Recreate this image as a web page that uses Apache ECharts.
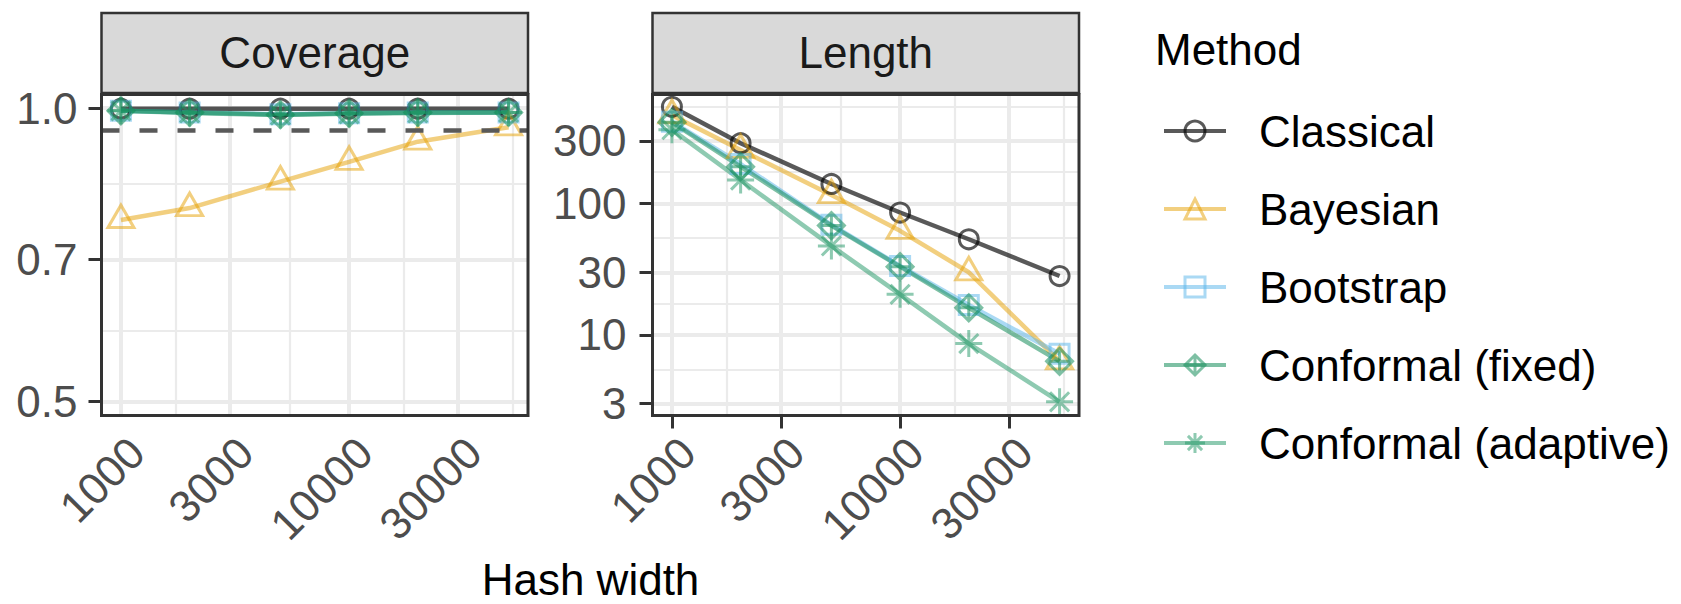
<!DOCTYPE html>
<html>
<head>
<meta charset="utf-8">
<script src="https://cdn.jsdelivr.net/npm/echarts@6/dist/echarts.min.js"></script>
<style>
  html, body { margin: 0; padding: 0; background: #fff; }
  #main { width: 1681px; height: 604px; }
</style>
</head>
<body>
<div id="main"></div>
<script>
  // x: hash width (log scale in both panels)
  const hashWidths = [1000, 2000, 5000, 10000, 20000, 50000]
  const methods = ['Classical', 'Bayesian', 'Bootstrap', 'Conformal (fixed)', 'Conformal (adaptive)']

  // Coverage panel
  const coverageClassical = [0.999, 0.999, 0.999, 0.999, 0.999, 0.999]
  const coverageBayesian = [0.768, 0.79, 0.841, 0.881, 0.924, 0.956]
  const coverageBootstrap = [0.994, 0.99, 0.986, 0.988, 0.99, 0.99]
  const coverageFixed = [0.994, 0.99, 0.985, 0.988, 0.99, 0.99]
  const coverageAdaptive = [0.994, 0.989, 0.984, 0.987, 0.989, 0.99]
  const nominalLevel = 0.95

  // Length panel
  const lengthClassical = [545, 288, 141, 85.5, 53.5, 28.1]
  const lengthBayesian = [470, 256, 116, 62, 30, 6.3]
  const lengthBootstrap = [420, 200, 69, 33.5, 16.9, 7.2]
  const lengthFixed = [415, 191, 68, 33.1, 16.1, 6.3]
  const lengthAdaptive = [365, 151, 47.6, 20.4, 8.6, 3.1]

  // breaks / tick labels
  const xBreaks = [1000, 3000, 10000, 30000]
  const xMinor = [1732, 5477, 17321, 51962]
  const coverageBreaks = [0.5, 0.7, 1.0]
  const coverageLabels = ['0.5', '0.7', '1.0']
  const coverageMinor = [0.5916, 0.8367]
  const lengthBreaks = [3, 10, 30, 100, 300]
  const lengthMinor = [5.477, 17.32, 54.77, 173.2, 547.7]

  const xLimits = [822, 60830]
  const coverageLimits = [0.484, 1.033]
  const lengthLimits = [2.44, 676]

  const ln = Math.log
  const FONT = 'Liberation Sans'
  const PANEL_TOP = 94.5
  const PANEL_H = 321
  const PANEL_W = 426.5
  const panelLeft = [101.5, 652.5]

  const styles = [
    { color: 'rgba(0,0,0,0.65)', symbol: 'circle', size: 19 },
    { color: 'rgba(230,159,0,0.5)', symbol: 'path://M0,-2L1.732,1L-1.732,1Z', size: [26, 22.5], offset: [0, -3.75] },
    { color: 'rgba(86,180,233,0.5)', symbol: 'rect', size: 19 },
    { color: 'rgba(20,140,90,0.55)', symbol: 'path://M0,-1L1,0L0,1L-1,0ZM0,-1L0,1M-1,0L1,0', size: 26 },
    { color: 'rgba(30,150,100,0.5)', symbol: 'path://M0,-1L0,1M-1,0L1,0M-0.7071,-0.7071L0.7071,0.7071M-0.7071,0.7071L0.7071,-0.7071', size: 27 },
  ]

  function gridLines(idx, xMaj, xMin, yMaj, yMin, yLim) {
    let out = []
    let add = (a, b, w) => out.push([{ coord: a, lineStyle: { width: w } }, { coord: b }])
    let x0 = ln(xLimits[0]), x1 = ln(xLimits[1])
    let y0 = ln(yLim[0]), y1 = ln(yLim[1])
    xMin.forEach((v) => add([ln(v), y0], [ln(v), y1], 2.2))
    yMin.forEach((v) => add([x0, ln(v)], [x1, ln(v)], 2.2))
    xMaj.forEach((v) => add([ln(v), y0], [ln(v), y1], 4))
    yMaj.forEach((v) => add([x0, ln(v)], [x1, ln(v)], 4))
    return {
      silent: true, z: 1, symbol: ['none', 'none'], label: { show: false },
      lineStyle: { color: '#EBEBEB', type: 'solid' }, animation: false,
      data: out,
    }
  }

  function makeSeries(name, values, idx, k) {
    let s = styles[k]
    return {
      name: name, type: 'line', xAxisIndex: idx, yAxisIndex: idx, z: 3,
      data: hashWidths.map((h, i) => [ln(h), ln(values[i])]),
      symbol: s.symbol, symbolSize: s.size, symbolOffset: s.offset || [0, 0],
      showAllSymbol: true, clip: false, animation: false,
      lineStyle: { color: s.color, width: 4.5 },
      itemStyle: { color: 'rgba(0,0,0,0)', borderColor: s.color, borderWidth: 3 },
      emphasis: { disabled: true },
    }
  }

  const coverageData = [coverageClassical, coverageBayesian, coverageBootstrap, coverageFixed, coverageAdaptive]
  const lengthData = [lengthClassical, lengthBayesian, lengthBootstrap, lengthFixed, lengthAdaptive]

  let series = []
  coverageData.forEach((d, k) => series.push(makeSeries(methods[k], d, 0, k)))
  lengthData.forEach((d, k) => series.push(makeSeries(methods[k], d, 1, k)))
  series[0].markLine = gridLines(0, xBreaks, xMinor, coverageBreaks, coverageMinor, coverageLimits)
  series[5].markLine = gridLines(1, xBreaks, xMinor, lengthBreaks, lengthMinor, lengthLimits)
  series[1].markLine = {
    silent: true, z: 4, symbol: ['none', 'none'], label: { show: false }, animation: false,
    lineStyle: { color: '#595959', width: 4.5, type: [18, 20] },
    data: [[{ coord: [ln(xLimits[0]), ln(nominalLevel)] }, { coord: [ln(xLimits[1]), ln(nominalLevel)] }]],
  }

  function xAxis(idx) {
    return {
      type: 'value', gridIndex: idx, min: ln(xLimits[0]), max: ln(xLimits[1]),
      splitLine: { show: false }, axisLine: { show: false },
      axisTick: { show: true, length: 13, customValues: xBreaks.map(ln), lineStyle: { color: '#333', width: 3 } },
      axisLabel: {
        customValues: xBreaks.map(ln), rotate: 45, align: 'right', verticalAlign: 'top', margin: 14,
        fontSize: 44, fontFamily: FONT, color: '#4D4D4D',
        formatter: (v) => String(Math.round(Math.exp(v))),
      },
    }
  }

  function yAxis(idx, breaks, labels, lim, margin) {
    return {
      type: 'value', gridIndex: idx, min: ln(lim[0]), max: ln(lim[1]),
      splitLine: { show: false }, axisLine: { show: false },
      axisTick: { show: true, length: 13, customValues: breaks.map(ln), lineStyle: { color: '#333', width: 3 } },
      axisLabel: {
        customValues: breaks.map(ln), margin: margin, fontSize: 44, fontFamily: FONT, color: '#4D4D4D',
        formatter: (v) => {
          let i = breaks.findIndex((b) => Math.abs(ln(b) - v) < 1e-6)
          return i >= 0 ? labels[i] : ''
        },
      },
    }
  }

  let graphics = []
  const stripTitles = ['Coverage', 'Length']
  panelLeft.forEach((left, i) => {
    graphics.push({
      type: 'rect', z: 100, shape: { x: left, y: 13, width: PANEL_W, height: 80 },
      style: { fill: '#D9D9D9', stroke: '#333333', lineWidth: 2.5 },
    })
    graphics.push({
      type: 'text', z: 101, x: left + PANEL_W / 2, y: 52.5,
      style: { text: stripTitles[i], fontSize: 44, fontFamily: FONT, fill: '#1A1A1A', align: 'center', verticalAlign: 'middle' },
    })
    graphics.push({
      type: 'rect', z: 100, shape: { x: left, y: PANEL_TOP, width: PANEL_W, height: PANEL_H },
      style: { fill: 'none', stroke: '#333333', lineWidth: 3 },
    })
  })
  graphics.push({
    type: 'text', z: 101, x: 590.5, y: 579,
    style: { text: 'Hash width', fontSize: 44, fontFamily: FONT, fill: '#000', align: 'center', verticalAlign: 'middle' },
  })
  graphics.push({
    type: 'text', z: 101, x: 1155, y: 49.5,
    style: { text: 'Method', fontSize: 44, fontFamily: FONT, fill: '#000', align: 'left', verticalAlign: 'middle' },
  })

  const option = {
    animation: false,
    backgroundColor: '#ffffff',
    textStyle: { fontFamily: FONT },
    grid: panelLeft.map((left) => ({ left: left, top: PANEL_TOP, width: PANEL_W, height: PANEL_H, containLabel: false })),
    xAxis: [xAxis(0), xAxis(1)],
    yAxis: [
      yAxis(0, coverageBreaks, coverageLabels, coverageLimits, 24),
      yAxis(1, lengthBreaks, lengthBreaks.map(String), lengthLimits, 26),
    ],
    legend: {
      orient: 'vertical', left: 1162, top: 109, padding: 0, itemGap: 34,
      itemWidth: 62, itemHeight: 25, selectedMode: false, data: methods,
      itemStyle: { borderWidth: 3 }, lineStyle: { width: 4 },
      textStyle: { fontSize: 44, fontFamily: FONT, color: '#000', padding: [0, 0, 0, 28], lineHeight: 44 },
    },
    graphic: graphics,
    series: series,
  }

  const chart = echarts.init(document.getElementById('main'), null, { renderer: 'svg' })
  chart.setOption(option)
</script>
</body>
</html>
